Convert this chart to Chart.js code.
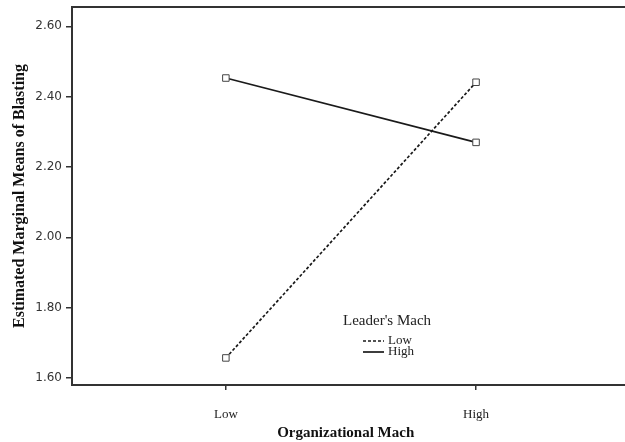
<!DOCTYPE html>
<html>
<head>
<meta charset="utf-8">
<script src="https://cdn.jsdelivr.net/npm/chart.js@4/dist/chart.umd.min.js"></script>
<style>
  html, body { margin: 0; padding: 0; background: #fff; }
  #wrap { width: 625px; height: 442px; position: relative; }
</style>
</head>
<body>
<div id="wrap"><canvas id="c" width="625" height="442"></canvas></div>
<script>
// Estimated marginal means of blasting by organizational and leader's Mach
const categories = ['Low', 'High'];          // Organizational Mach
const leaderLow  = [1.657, 2.441];           // Leader's Mach: Low
const leaderHigh = [2.453, 2.270];           // Leader's Mach: High
const yTicks = [1.60, 1.80, 2.00, 2.20, 2.40, 2.60];

const INK = '#1a1a1a';
const AXIS = '#333';

function toPoints(vals) {
  return vals.map((v, i) => ({ x: i, y: v }));
}

// Top and bottom edges of the plot frame run to the canvas edge; in-plot legend
const framePlugin = {
  id: 'frame',
  afterDraw(chart) {
    const { ctx, chartArea } = chart;
    ctx.save();
    ctx.strokeStyle = AXIS;
    ctx.lineWidth = 2;
    ctx.beginPath();
    ctx.moveTo(chartArea.left - 1, chartArea.top);
    ctx.lineTo(chart.width, chartArea.top);
    ctx.moveTo(chartArea.right - 2, chartArea.bottom);
    ctx.lineTo(chart.width, chartArea.bottom);
    ctx.stroke();

    // legend
    ctx.fillStyle = '#222';
    ctx.textBaseline = 'middle';
    ctx.textAlign = 'left';
    ctx.font = '15px "Liberation Serif", "DejaVu Serif", serif';
    ctx.fillText("Leader's Mach", 343, 321);
    ctx.font = '13px "Liberation Serif", "DejaVu Serif", serif';
    chart.data.datasets.forEach((ds, i) => {
      const y = 341 + i * 11;
      ctx.strokeStyle = INK;
      ctx.lineWidth = ds.borderWidth;
      ctx.setLineDash(ds.borderDash || []);
      ctx.beginPath();
      ctx.moveTo(363, y);
      ctx.lineTo(384, y);
      ctx.stroke();
      ctx.setLineDash([]);
      ctx.fillText(ds.label, 388, y);
    });
    ctx.restore();
  }
};

new Chart(document.getElementById('c'), {
  type: 'line',
  data: {
    datasets: [
      {
        label: categories[0],
        data: toPoints(leaderLow),
        borderColor: INK,
        borderWidth: 1.7,
        borderDash: [3, 2],
        pointStyle: 'rect',
        pointRadius: 4.6,
        pointBorderWidth: 1,
        pointBorderColor: '#444',
        pointBackgroundColor: '#fff'
      },
      {
        label: categories[1],
        data: toPoints(leaderHigh),
        borderColor: INK,
        borderWidth: 1.7,
        pointStyle: 'rect',
        pointRadius: 4.6,
        pointBorderWidth: 1,
        pointBorderColor: '#444',
        pointBackgroundColor: '#fff'
      }
    ]
  },
  options: {
    responsive: false,
    animation: false,
    layout: { padding: { top: 7, right: 0, left: 0, bottom: 0 } },
    plugins: { legend: { display: false }, tooltip: { enabled: false } },
    scales: {
      x: {
        type: 'linear',
        min: -0.615,
        max: 1.573,
        afterBuildTicks(scale) {
          scale.ticks = categories.map((c, i) => ({ value: i }));
        },
        afterFit(scale) { scale.height = 57; },
        ticks: {
          callback: (v) => categories[v],
          color: '#222',
          font: { family: '"Liberation Serif", serif', size: 13 },
          padding: 17,
          maxRotation: 0
        },
        grid: { drawOnChartArea: false, tickLength: 5, color: AXIS, lineWidth: 1.5 },
        border: { display: true, color: AXIS, width: 2 },
        title: {
          display: true,
          text: 'Organizational Mach',
          color: '#111',
          font: { family: '"Liberation Serif", serif', size: 15, weight: 'bold' },
          padding: { top: 0, bottom: 0 }
        }
      },
      y: {
        min: 1.58,
        max: 2.655,
        afterBuildTicks(scale) {
          scale.ticks = yTicks.map(v => ({ value: v }));
        },
        afterFit(scale) {
          scale.width = 72;
          scale.paddingTop = 0;
          scale.paddingBottom = 0;
        },
        ticks: {
          callback: (v) => v.toFixed(2),
          color: '#333',
          font: { family: '"DejaVu Sans", sans-serif', size: 12 },
          padding: 4
        },
        grid: { drawOnChartArea: false, tickLength: 6, color: AXIS, lineWidth: 1.5 },
        border: { display: true, color: AXIS, width: 2 },
        title: {
          display: true,
          text: 'Estimated Marginal Means of Blasting',
          color: '#111',
          font: { family: '"Liberation Serif", serif', size: 16, weight: 'bold' },
          padding: { top: 10, bottom: 4 }
        }
      }
    }
  },
  plugins: [framePlugin]
});
</script>
</body>
</html>
